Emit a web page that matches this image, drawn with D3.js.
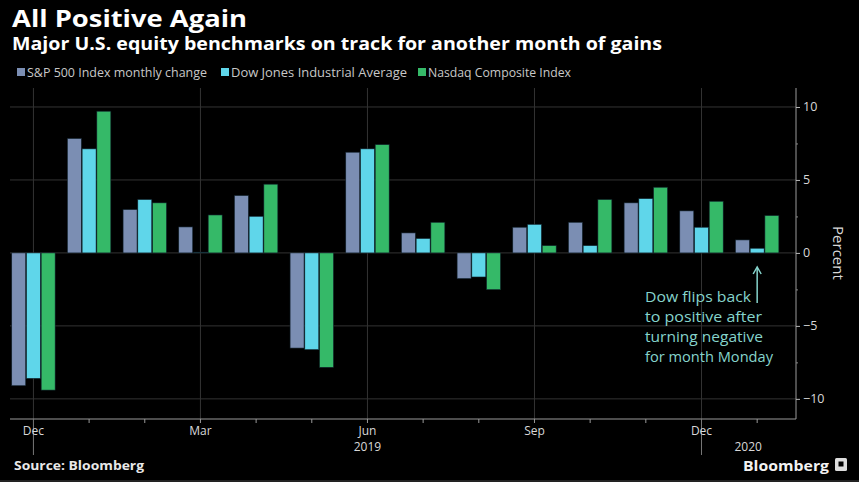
<!DOCTYPE html>
<html><head><meta charset="utf-8">
<script src="https://cdn.jsdelivr.net/npm/d3@7"></script>
<style>body{margin:0;background:#000;overflow:hidden}</style>
</head><body><svg id="c" width="859" height="482"></svg>
<script>
const months = ["2018-12","2019-01","2019-02","2019-03","2019-04","2019-05","2019-06","2019-07","2019-08","2019-09","2019-10","2019-11","2019-12","2020-01"];
const monthLabels = {"2018-12":"Dec","2019-03":"Mar","2019-06":"Jun","2019-09":"Sep","2019-12":"Dec"};
const yearLabels = {"2019-06":"2019","2020-01":"2020"};
const yearMarks = ["2018-12","2019-12"];
const spx = [-9.1, 7.84, 2.97, 1.78, 3.93, -6.52, 6.9, 1.37, -1.76, 1.76, 2.1, 3.43, 2.88, 0.89];
const dow = [-8.6, 7.13, 3.66, 0.05, 2.51, -6.63, 7.13, 0.99, -1.65, 1.96, 0.5, 3.72, 1.76, 0.32];
const ndx = [-9.4, 9.71, 3.43, 2.6, 4.71, -7.84, 7.42, 2.1, -2.52, 0.5, 3.66, 4.5, 3.54, 2.56];
const seriesNames = ["S&P 500 Index monthly change","Dow Jones Industrial Average","Nasdaq Composite Index"];
const colors = ["#7b8eb3","#5fd6ea","#35b968"];
const yTicks = [-10,-5,0,5,10];
const yMinor = [-7.5,-2.5,2.5,7.5];
const title = "All Positive Again";
const subtitle = "Major U.S. equity benchmarks on track for another month of gains";
const note = ["Dow flips back","to positive after","turning negative","for month Monday"];
const noteMonth = "2020-01";

(function(){
const series = [spx, dow, ndx];
const svg = d3.select("#c");
const W = 859, H = 482;
const font = "'Open Sans', 'DejaVu Sans', sans-serif";
svg.append("rect").attr("width",W).attr("height",H).attr("fill","#000");

const pL = 10, pR = 796, pT = 88, pB = 419;
const x0 = d3.scaleBand().domain(months).range([5.6, 785]).paddingInner(0.22).paddingOuter(0.11);
const x1 = d3.scaleBand().domain([0,1,2]).range([0, x0.bandwidth()]).paddingInner(0.05);
const y = d3.scaleLinear().domain([-11.38, 11.3]).range([pB, pT]);
const cx = m => x0(m) + x0.bandwidth()/2;

// grid
const g = svg.append("g");
g.selectAll("line.h").data(yTicks).join("line")
  .attr("x1", pL).attr("x2", pR).attr("y1", d=>y(d)).attr("y2", d=>y(d))
  .attr("stroke","#333").attr("stroke-width",1);
g.selectAll("line.v").data(Object.keys(monthLabels)).join("line")
  .attr("x1", d=>cx(d)).attr("x2", d=>cx(d)).attr("y1", pT).attr("y2", pB)
  .attr("stroke","#333").attr("stroke-width",1);

// bars
const groups = svg.append("g").selectAll("g").data(months).join("g")
  .attr("transform", d=>`translate(${x0(d)},0)`);
groups.selectAll("rect").data((m,i)=>series.map((s,k)=>({k, v:s[i]}))).join("rect")
  .attr("x", d=>x1(d.k)).attr("width", x1.bandwidth())
  .attr("y", d=>y(Math.max(0,d.v))).attr("height", d=>Math.abs(y(d.v)-y(0)))
  .attr("fill", d=>colors[d.k]).attr("stroke","#10202a").attr("stroke-width",0.6);

// y axis (right)
const ya = svg.append("g").attr("transform",`translate(${pR},0)`)
  .call(d3.axisRight(y).tickValues(yTicks).tickSize(4).tickPadding(3));
ya.select(".domain").attr("d",`M0,${pT}V${pB}`).attr("stroke","#9a9a9a");
ya.selectAll(".tick line").attr("stroke","#bbb");
ya.selectAll("text").attr("fill","#d8d8d8").style("font-family",font).style("font-size","12.5px");
const ym = svg.append("g").attr("transform",`translate(${pR},0)`)
  .call(d3.axisRight(y).tickValues(yMinor).tickSize(2).tickFormat(""));
ym.select(".domain").remove();
ym.selectAll(".tick line").attr("stroke","#888");
svg.append("text").attr("transform",`translate(833,${y(0)}) rotate(90)`)
  .attr("text-anchor","middle").attr("fill","#d8d8d8")
  .style("font-family",font).style("font-size","15px").text("Percent");

// x axis
const xa = svg.append("g").attr("transform",`translate(0,${pB})`)
  .call(d3.axisBottom(x0).tickSize(4).tickPadding(3).tickFormat(d=>monthLabels[d]||""));
xa.select(".domain").attr("d",`M${pL},0H${pR}`).attr("stroke","#9a9a9a");
xa.selectAll(".tick line").attr("stroke","#999");
xa.selectAll("text").attr("fill","#d8d8d8").style("font-family",font).style("font-size","12px");
xa.selectAll(".tick").filter(d=>yearMarks.includes(d)).select("line").attr("y2",36).attr("stroke","#777");
const yearShift = {"2019-06":0,"2020-01":-9};
svg.append("g").selectAll("text").data(Object.keys(yearLabels)).join("text")
  .attr("x", d=>cx(d)+yearShift[d]).attr("y", 451).attr("text-anchor","middle").attr("fill","#d8d8d8")
  .style("font-family",font).style("font-size","12px").text(d=>yearLabels[d]);

// titles
svg.append("text").attr("x",12).attr("y",27).attr("fill","#fff")
  .style("font-family",font).style("font-weight","700").style("font-size","23.5px")
  .attr("textLength",235).attr("lengthAdjust","spacingAndGlyphs").text(title);
svg.append("text").attr("x",12).attr("y",50).attr("fill","#fff")
  .style("font-family",font).style("font-weight","700").style("font-size","17px")
  .attr("textLength",650).attr("lengthAdjust","spacingAndGlyphs").text(subtitle);

// legend
const legX = [17, 221, 418], legW = [180, 176, 143];
const leg = svg.append("g").selectAll("g").data(seriesNames).join("g")
  .attr("transform",(d,i)=>`translate(${legX[i]},72)`);
leg.append("rect").attr("x",0).attr("y",-4).attr("width",8).attr("height",8).attr("fill",(d,i)=>colors[i]);
leg.append("text").attr("x",10).attr("y",4.5).attr("fill","#c8c8c8")
  .style("font-family",font).style("font-size","12px")
  .attr("textLength",(d,i)=>legW[i]).attr("lengthAdjust","spacingAndGlyphs").text(d=>d);

// annotation
const noteColor = "#86d4cc";
const noteW = [106, 117, 118, 128];
svg.append("g").selectAll("text").data(note).join("text")
  .attr("x",645).attr("y",(d,i)=>302+i*20).attr("fill",noteColor)
  .style("font-family",font).style("font-size","14px")
  .attr("textLength",(d,i)=>noteW[i]).attr("lengthAdjust","spacingAndGlyphs").text(d=>d);
const ax = x0(noteMonth) + x1(1) + x1.bandwidth()/2;
svg.append("line").attr("x1",ax).attr("x2",ax).attr("y1",303).attr("y2",268)
  .attr("stroke",noteColor).attr("stroke-width",1.5);
svg.append("path").attr("d",`M${ax-4},${274}L${ax},${267}L${ax+4},${274}`)
  .attr("fill","none").attr("stroke",noteColor).attr("stroke-width",1.5);

// footer
svg.append("text").attr("x",14).attr("y",470).attr("fill","#e8e8e8")
  .style("font-family",font).style("font-weight","700").style("font-size","11.5px")
  .attr("textLength",130).attr("lengthAdjust","spacingAndGlyphs").text("Source: Bloomberg");
svg.append("text").attr("x",743).attr("y",471).attr("fill","#f2f2f2")
  .style("font-family",font).style("font-weight","700").style("font-size","15px")
  .attr("textLength",86).attr("lengthAdjust","spacingAndGlyphs").text("Bloomberg");
svg.append("rect").attr("x",835).attr("y",458).attr("width",12).attr("height",13).attr("rx",1.5).attr("fill","#ddd");
svg.append("rect").attr("x",838.5).attr("y",461.5).attr("width",5).attr("height",5).attr("fill","#000");
svg.append("line").attr("x1",0).attr("x2",W).attr("y1",481).attr("y2",481).attr("stroke","#444");
})();
</script></body></html>
